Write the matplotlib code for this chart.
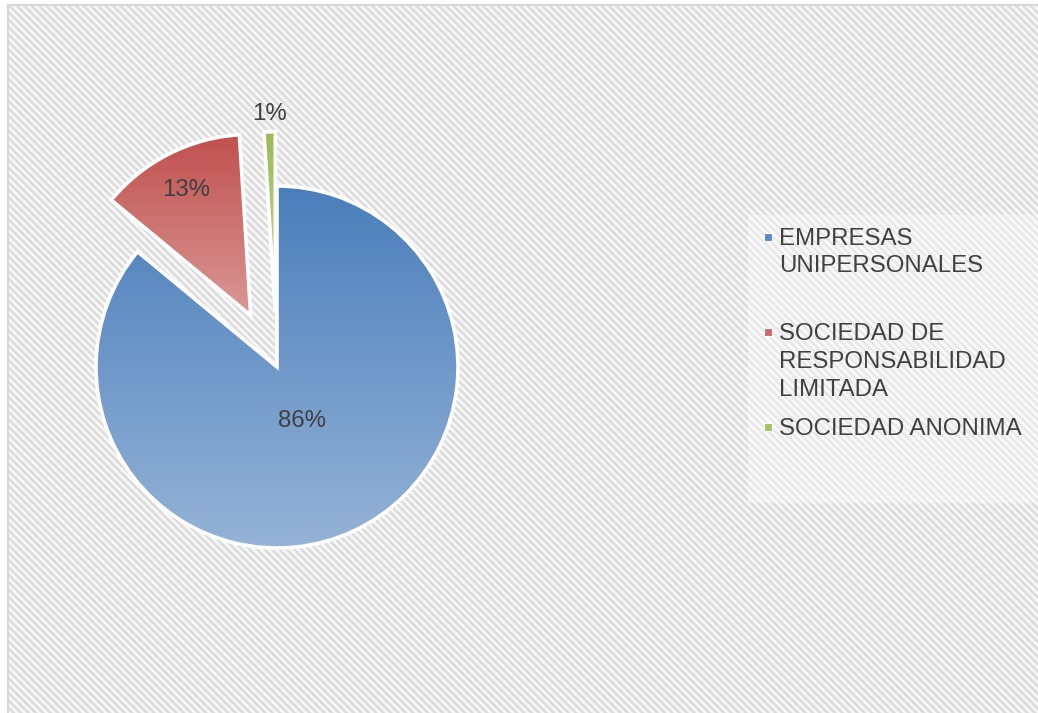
import textwrap
import numpy as np
import matplotlib
matplotlib.use('Agg')
import matplotlib.pyplot as plt
from matplotlib.colors import LinearSegmentedColormap
from matplotlib.patches import Rectangle

# Datos del grafico
categorias = ['EMPRESAS UNIPERSONALES',
              'SOCIEDAD DE RESPONSABILIDAD LIMITADA',
              'SOCIEDAD ANONIMA']
porcentajes = [86, 13, 1]

# Estilo de cada porcion
separacion = [0, 0.32, 0.30]
dist_etiqueta = [0.33, 0.78, 1.10]
color_arriba = ['#4a7ebb', '#c0504d', '#9bbb59']
color_abajo = ['#95b3d7', '#da9896', '#c5d89e']
color_leyenda = ['#5b8ac5', '#cc6a68', '#a3c162']
color_texto = '#404040'

W, H = 1038, 713
plt.rcParams['font.family'] = ['Liberation Sans', 'DejaVu Sans']

fig = plt.figure(figsize=(W / 100, H / 100), dpi=100)

# Fondo rayado en diagonal (coordenadas en pixeles)
fondo = fig.add_axes([0, 0, 1, 1])
fondo.set_xlim(0, W)
fondo.set_ylim(H, 0)
fondo.axis('off')
yy, xx = np.mgrid[0:H, 0:W]
rayas = 0.915 + 0.065 * np.cos(2 * np.pi * (xx - yy) / 7.4)
rayas[:, :7] = 1.0
rayas[:4, :] = 1.0
rayas[4:6, 7:] = 0.84
rayas[4:, 7:9] = 0.84
fondo.imshow(rayas, cmap='gray', vmin=0, vmax=1, extent=(0, W, H, 0),
             interpolation='bilinear', aspect='auto', zorder=0)

# Caja de la leyenda, un poco mas clara
fondo.add_patch(Rectangle((748, 215), 290, 288, facecolor='white',
                          alpha=0.35, lw=0, zorder=1))

# Entradas de la leyenda
base_y = [245, 340.5, 435]
paso = 27.5
for i, nombre in enumerate(categorias):
    lineas = textwrap.wrap(nombre, width=16)
    for k, linea in enumerate(lineas):
        fondo.text(779, base_y[i] + k * paso, linea, fontsize=17.3,
                   color=color_texto, va='baseline', ha='left', zorder=3)
    fondo.add_patch(Rectangle((763.5, base_y[i] - 12.5), 8, 8,
                              facecolor=color_leyenda[i], edgecolor='white',
                              lw=0.8, zorder=3))

# Ejes del pastel: 1 unidad = 181 px, centro en (277, 367)
R = 181
S = 350
cx, cy = 277, 367
ax = fig.add_axes([(cx - S) / W, (H - cy - S) / H, 2 * S / W, 2 * S / H])
ax.patch.set_visible(False)

cunas, _ = ax.pie(porcentajes, explode=separacion, startangle=90,
                  counterclock=False, radius=1,
                  wedgeprops=dict(edgecolor='white', linewidth=2.6))

for i, cuna in enumerate(cunas):
    cuna.set_facecolor('none')
    cuna.set_zorder(3)
    ext = cuna.get_path().get_extents()
    grad = np.linspace(0, 1, 256).reshape(-1, 1)
    cmap = LinearSegmentedColormap.from_list('g%d' % i,
                                             [color_arriba[i], color_abajo[i]])
    im = ax.imshow(grad, cmap=cmap, extent=(ext.x0, ext.x1, ext.y0, ext.y1),
                   origin='upper', aspect='auto', zorder=2)
    im.set_clip_path(cuna)

    # Etiqueta de porcentaje
    ang = np.deg2rad((cuna.theta1 + cuna.theta2) / 2)
    x = cuna.center[0] + dist_etiqueta[i] * np.cos(ang)
    y = cuna.center[1] + dist_etiqueta[i] * np.sin(ang)
    ax.text(x, y, '%d%%' % porcentajes[i], fontsize=17.3, color=color_texto,
            ha='center', va='center', zorder=4)

L = S / R
ax.set_xlim(-L, L)
ax.set_ylim(-L, L)
ax.set_aspect('equal')
ax.axis('off')

fig.savefig('out.png', dpi=100)
